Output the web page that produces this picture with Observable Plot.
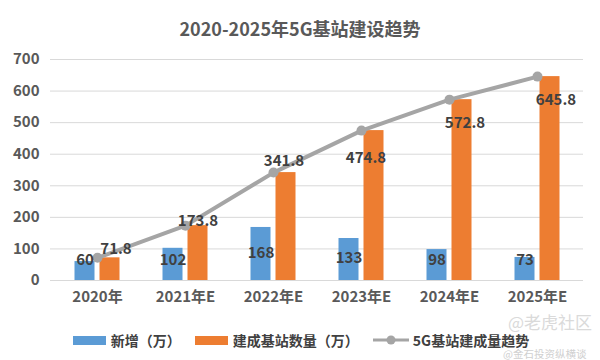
<!DOCTYPE html>
<html>
<head>
<meta charset="utf-8">
<script src="https://cdn.jsdelivr.net/npm/d3@7"></script>
<script src="https://cdn.jsdelivr.net/npm/@observablehq/plot@0.6"></script>
<style>
  html, body { margin: 0; padding: 0; background: #fff; }
  body { width: 600px; height: 360px; position: relative; overflow: hidden;
         font-family: "Noto Sans CJK SC", "Noto Sans", sans-serif; }
  #title { height: 36px; padding-top: 10px; line-height: 36px; text-align: center;
           font-size: 18px; font-weight: bold; color: #595959; }
  #legend { height: 40px; display: flex; justify-content: center; align-items: center;
            font-size: 14px; font-weight: bold; color: #404040; padding-left: 2px; }
  .item { display: flex; align-items: center; margin: 0 7px; }
  .sw { width: 33px; height: 9px; margin-right: 5px; }
  .wm1 { position: absolute; left: 508px; top: 311px; font-size: 17px; line-height: 22px; color: #dadada; }
  .wm2 { position: absolute; left: 503px; top: 348px; font-size: 10.5px; line-height: 12px; color: #d0d0d0; }
</style>
</head>
<body>
<div id="title">2020-2025年5G基站建设趋势</div>
<div id="chart"></div>
<div id="legend"></div>
<div class="wm1">@老虎社区</div>
<div class="wm2">@金石投资纵横谈</div>
<script>
// ---- data ----
const categories = ["2020年", "2021年E", "2022年E", "2023年E", "2024年E", "2025年E"];
const newAdded = [60, 102, 168, 133, 98, 73];
const totalBuilt = [71.8, 173.8, 341.8, 474.8, 572.8, 645.8];
const yTicks = [0, 100, 200, 300, 400, 500, 600, 700];
const seriesNames = ["新增（万）", "建成基站数量（万）", "5G基站建成量趋势"];

// ---- layout offsets for data labels (pixels) ----
const blueLabelDy = [-20, -20, -27, -22, -20, -20];
const orangeLabelDx = [6, 0, -2, -8, 3, 6];
const orangeLabelDy = [-9, -4, -11, 28, 24, 24];

const colors = ["#5b9bd5", "#ed7d31", "#a5a5a5"];
const rows = categories.map((c, i) => ({cat: c, added: newAdded[i], total: totalBuilt[i], i}));
const FONT = '"Noto Sans CJK SC", "Noto Sans", sans-serif';

const labelMarks = [];
rows.forEach((r, i) => {
  labelMarks.push(Plot.text([r], {x: "cat", y: () => 0, text: d => String(d.added),
    dx: -12.5, dy: blueLabelDy[i], fill: "#404040", fontSize: 15, fontWeight: "bold"}));
  labelMarks.push(Plot.text([r], {x: "cat", y: "total", text: d => String(d.total),
    dx: 12.5 + orangeLabelDx[i], dy: orangeLabelDy[i], fill: "#404040", fontSize: 15, fontWeight: "bold"}));
});

const chart = Plot.plot({
  width: 600, height: 274,
  marginLeft: 50, marginRight: 17, marginTop: 13, marginBottom: 40,
  style: {fontFamily: FONT, fontSize: "15px", fontWeight: "bold", color: "#595959", background: "transparent"},
  x: {domain: categories, paddingInner: 0.775, paddingOuter: 0.3875, label: null},
  y: {domain: [0, 700], label: null},
  marks: [
    Plot.gridY(yTicks, {stroke: "#d9d9d9", strokeOpacity: 1, strokeWidth: 1}),
    Plot.barY(rows, {x: "cat", y: "added", fill: colors[0], dx: -12.5}),
    Plot.barY(rows, {x: "cat", y: "total", fill: colors[1], dx: 12.5}),
    Plot.line(rows, {x: "cat", y: "total", stroke: colors[2], strokeWidth: 4}),
    Plot.dot(rows, {x: "cat", y: "total", fill: colors[2], r: 5}),
    ...labelMarks,
    Plot.axisX({tickSize: 0, tickPadding: 11, fill: "#595959", fontSize: 15}),
    Plot.axisY({ticks: yTicks, tickSize: 0, tickPadding: 11, fill: "#595959", fontSize: 15})
  ]
});
document.getElementById("chart").appendChild(chart);

// legend
const lg = document.getElementById("legend");
seriesNames.forEach((name, i) => {
  const it = document.createElement("div");
  it.className = "item";
  if (i < 2) {
    const sw = document.createElement("div");
    sw.className = "sw";
    sw.style.background = colors[i];
    it.appendChild(sw);
  } else {
    const ns = "http://www.w3.org/2000/svg";
    const s = document.createElementNS(ns, "svg");
    s.setAttribute("width", 36); s.setAttribute("height", 12);
    s.style.marginRight = "4px";
    const l = document.createElementNS(ns, "line");
    l.setAttribute("x1", 0); l.setAttribute("x2", 36); l.setAttribute("y1", 6); l.setAttribute("y2", 6);
    l.setAttribute("stroke", colors[2]); l.setAttribute("stroke-width", 3);
    const c = document.createElementNS(ns, "circle");
    c.setAttribute("cx", 18); c.setAttribute("cy", 6); c.setAttribute("r", 4.5); c.setAttribute("fill", colors[2]);
    s.appendChild(l); s.appendChild(c);
    it.appendChild(s);
  }
  const t = document.createElement("span");
  t.textContent = name;
  it.appendChild(t);
  lg.appendChild(it);
});
</script>
</body>
</html>
